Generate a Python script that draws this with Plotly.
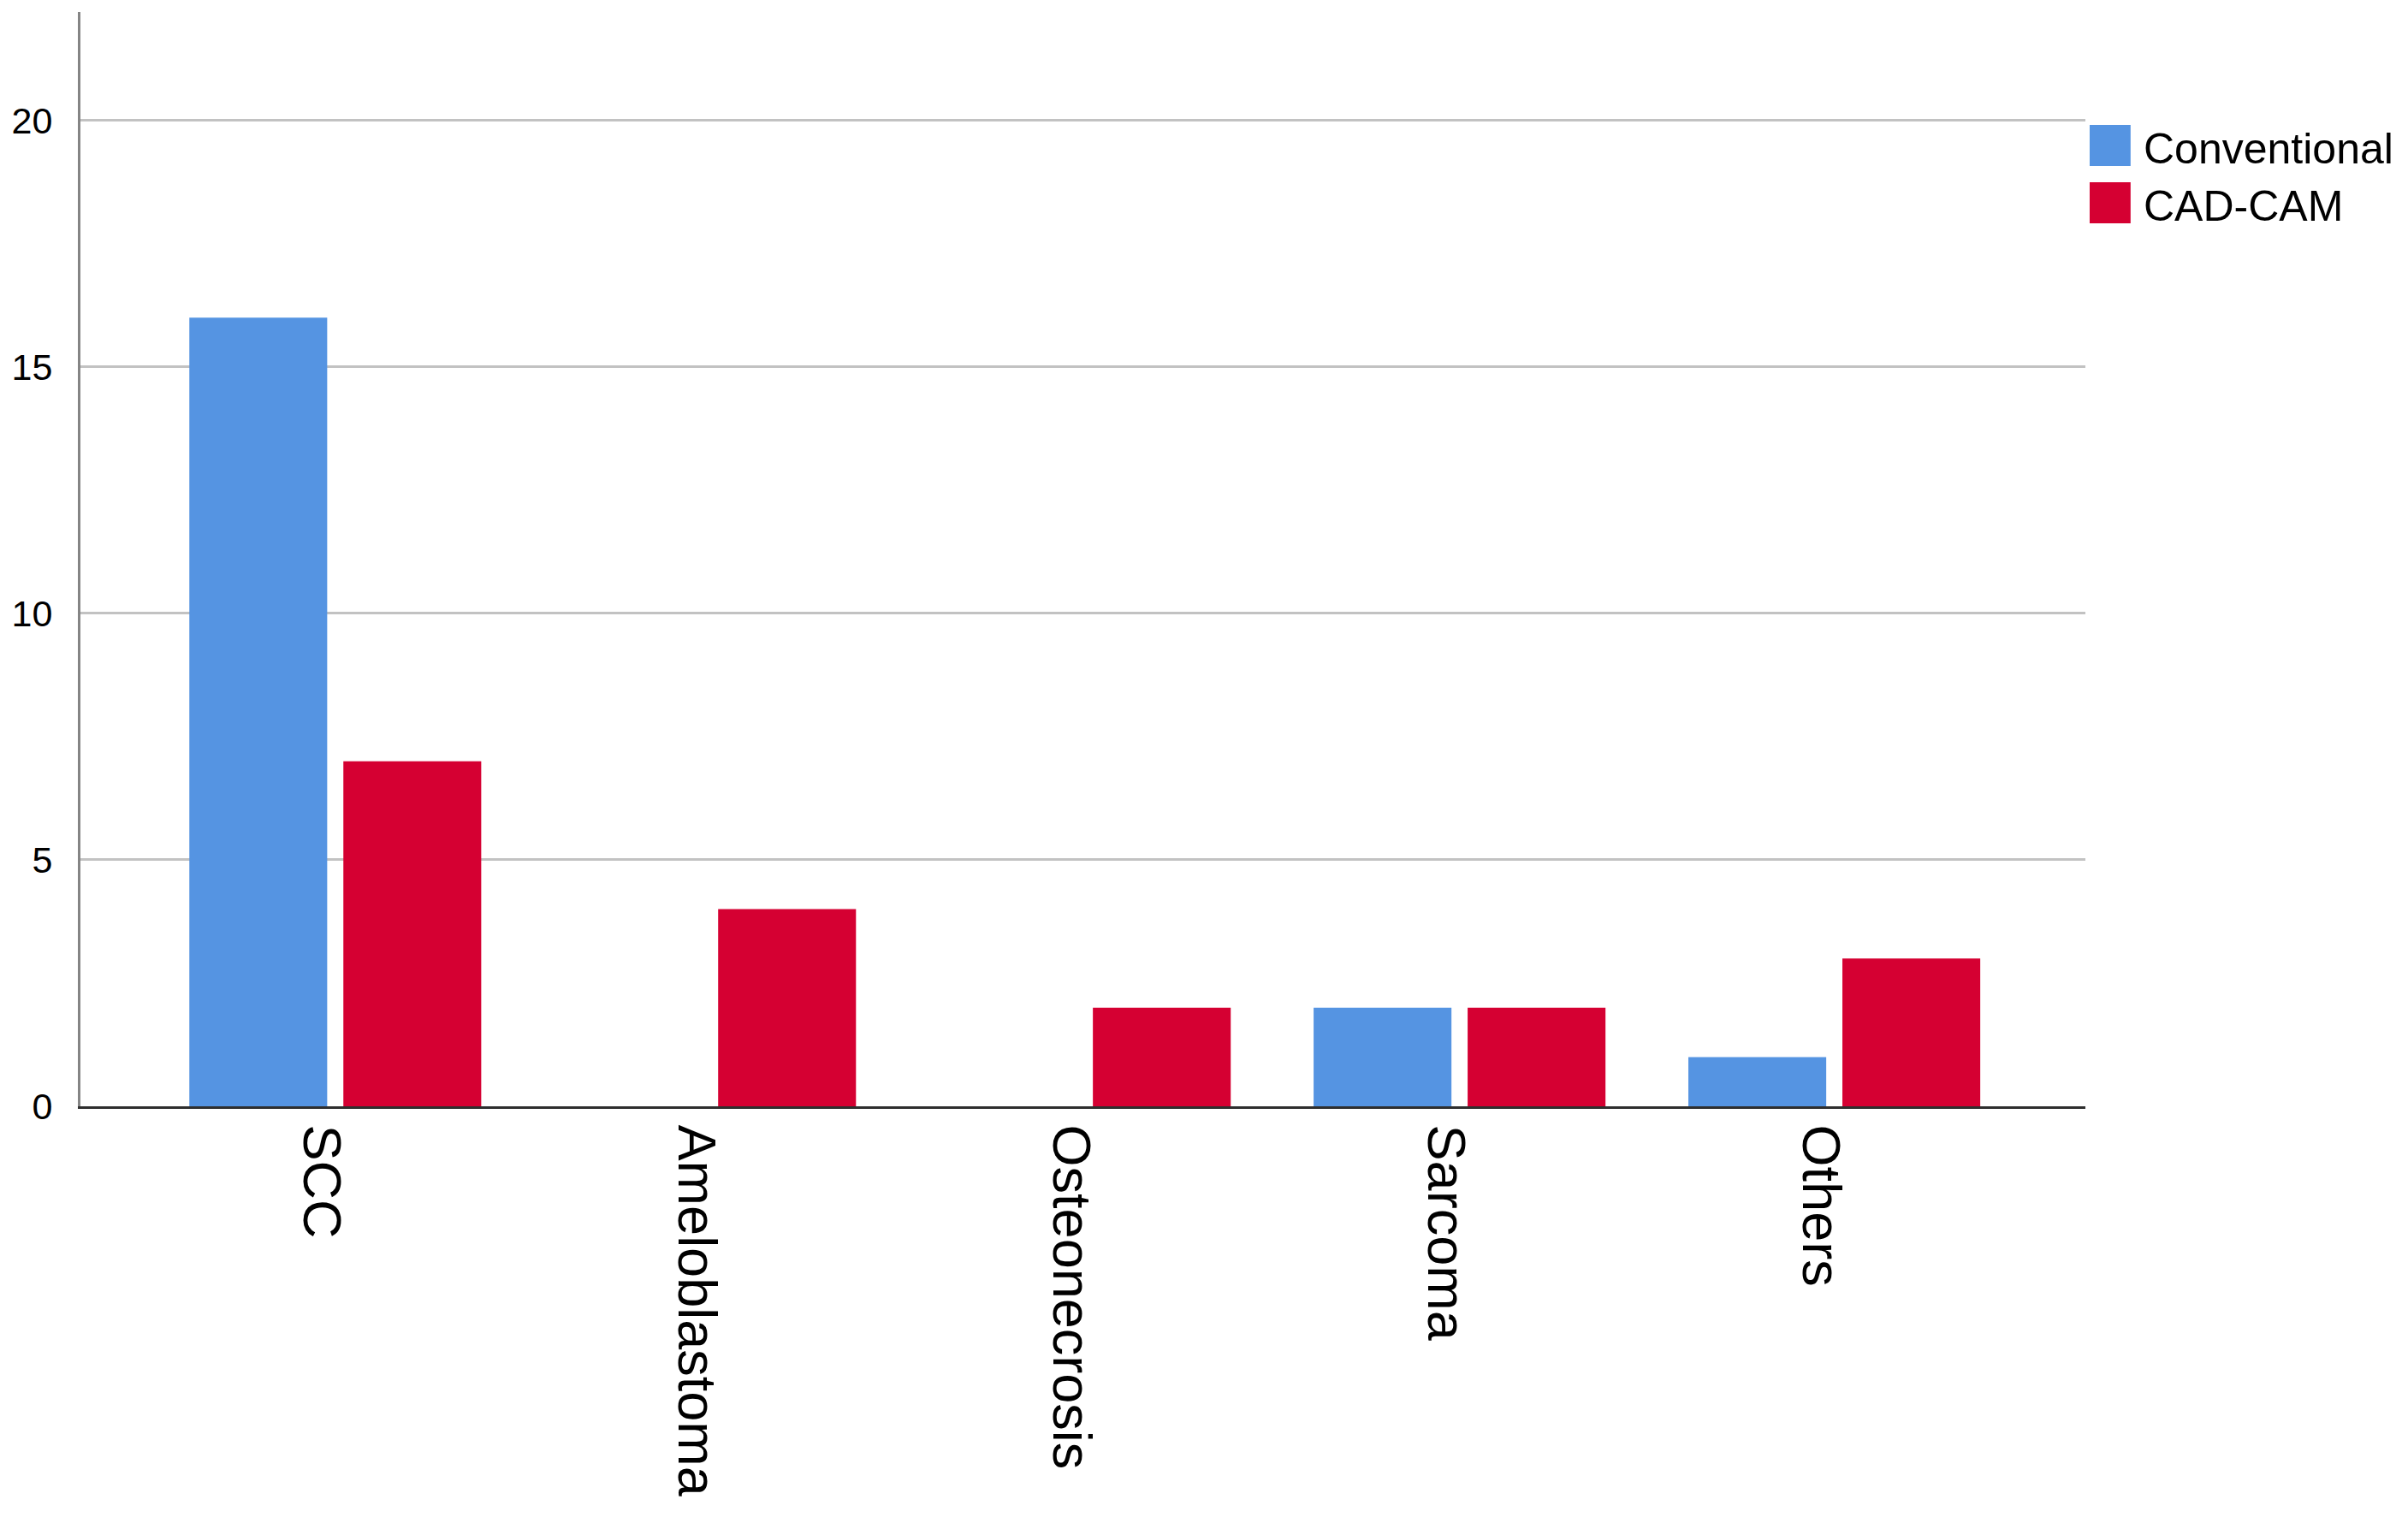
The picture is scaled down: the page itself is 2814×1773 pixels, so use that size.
import plotly.graph_objects as go

categories = ["SCC", "Ameloblastoma", "Osteonecrosis", "Sarcoma", "Others"]
series_names = ["Conventional", "CAD-CAM"]
conventional = [16, 0, 0, 2, 1]
cad_cam = [7, 4, 2, 2, 3]
series_colors = ["#5594e2", "#d50032"]
y_tickvals = [0, 5, 10, 15, 20]
y_ticktext = ["0", "5", "10", "15", "20"]

W, H = 2814, 1773
OFF = 8  # page body margin
L, R, T, B = 85 - OFF, 377 + OFF, 14 - OFF, 480 + OFF
PW, PH = W - L - R, H - T - B


def px_x(px):
    return (px - OFF - L) / PW


def px_y(py):
    return (H - B - (py - OFF)) / PH


fig = go.Figure()
for name, vals, col in zip(series_names, [conventional, cad_cam], series_colors):
    fig.add_trace(go.Bar(x=categories, y=vals, name=name, marker_color=col,
                         marker_line_width=0, showlegend=False))

shapes = []
annotations = []
sq = 48
centers = [170, 237]
for name, col, cy in zip(series_names, series_colors, centers):
    shapes.append(dict(type="rect", xref="paper", yref="paper",
                       x0=px_x(2442), x1=px_x(2442 + sq),
                       y0=px_y(cy + sq / 2), y1=px_y(cy - sq / 2),
                       fillcolor=col, line_width=0))
    annotations.append(dict(text=name, xref="paper", yref="paper",
                            x=px_x(2503), y=px_y(cy + 4), xanchor="left", yanchor="middle",
                            showarrow=False,
                            font=dict(family="Liberation Sans, Arial", size=50, color="#000")))

fig.update_layout(
    width=W, height=H,
    margin=dict(l=L, r=R, t=T, b=B, pad=0),
    paper_bgcolor="white", plot_bgcolor="white",
    barmode="group", bargap=0.178, bargroupgap=0.105,
    shapes=shapes, annotations=annotations,
    font=dict(family="Liberation Sans, Arial", color="#000"),
    xaxis=dict(range=[-0.68, 4.67], tickangle=90, showgrid=False,
               showline=True, linecolor="#2e2e2e", linewidth=3,
               ticks="", ticklabelstandoff=6, ticklabelshift=-16,
               tickfont=dict(size=63, color="#000"), zeroline=False),
    yaxis=dict(range=[0, 22.2], tickvals=y_tickvals, ticktext=y_ticktext,
               showgrid=True, gridcolor="#c2c2c2", gridwidth=3,
               showline=True, linecolor="#858585", linewidth=3,
               ticks="", ticklabelstandoff=21, zeroline=False,
               tickfont=dict(size=43, color="#000")),
)

fig.write_html("out.html")
